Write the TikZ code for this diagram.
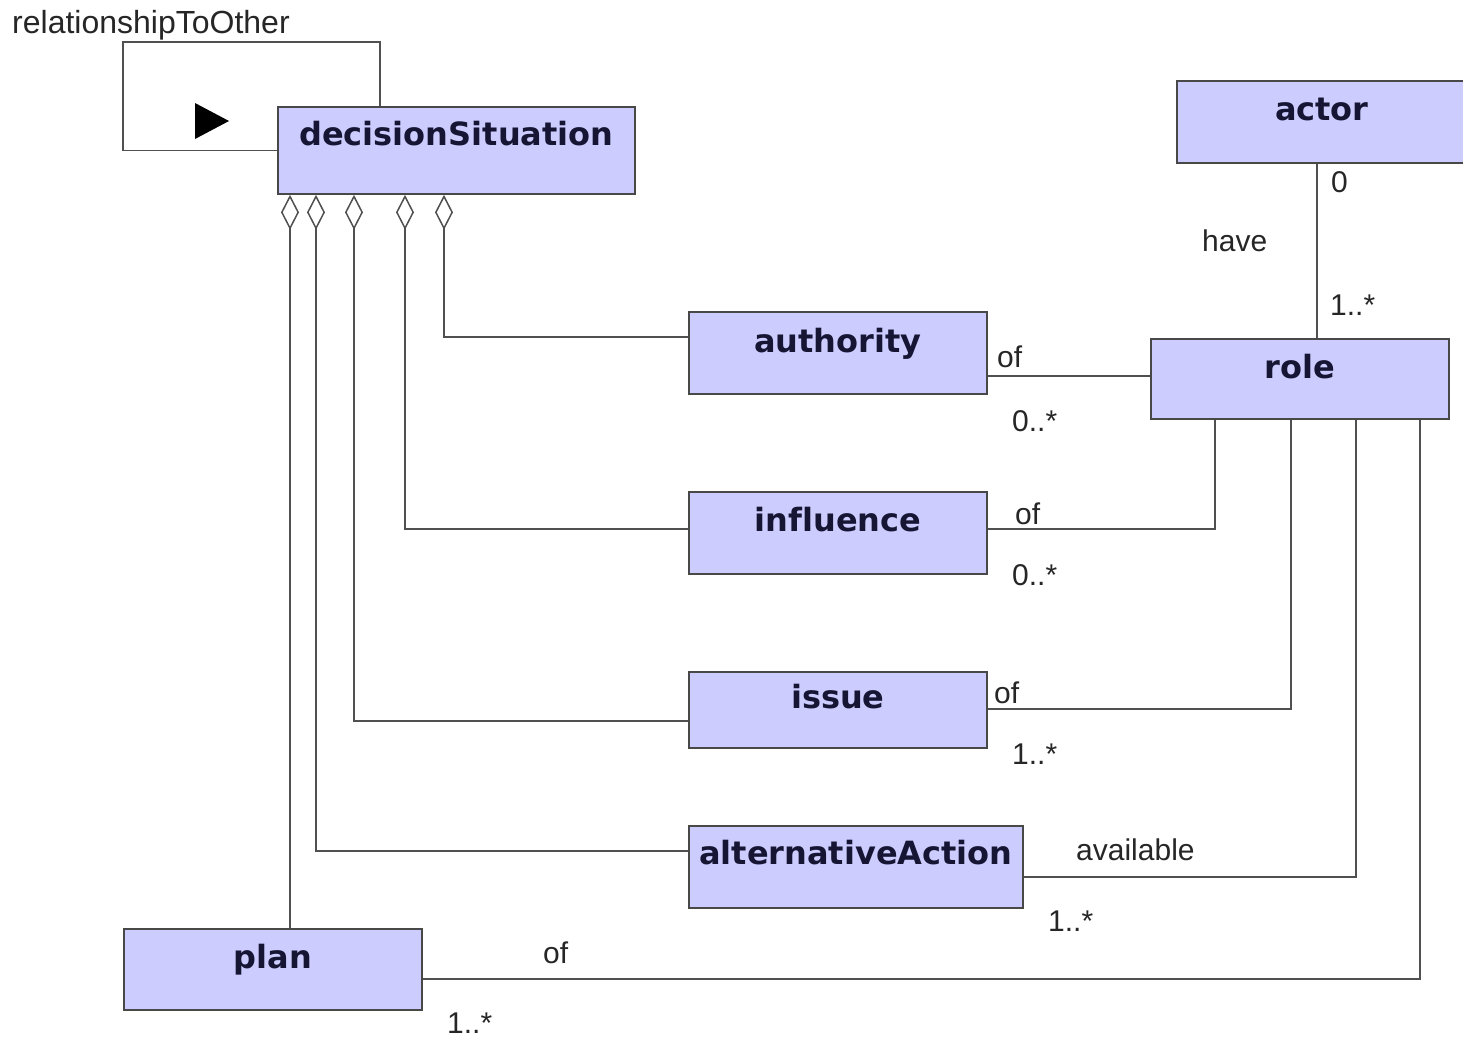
\documentclass[tikz,border=0pt]{standalone}
\usepackage{fontspec}
\setmainfont{Liberation Sans}
\newfontfamily\classfont{DejaVu Sans}[Ligatures=NoCommon]
\usetikzlibrary{arrows.meta,calc}
\definecolor{classfill}{RGB}{204,204,255}
\definecolor{classtext}{RGB}{22,22,52}
\definecolor{classedge}{RGB}{72,72,72}
\definecolor{wire}{RGB}{80,80,80}
\begin{document}
\begin{tikzpicture}[x=1pt,y=-1pt,
  cls/.style={draw=classedge, fill=classfill, line width=1.8pt, anchor=north west,
    inner sep=0pt, align=center, text=classtext,
    font=\classfont\bfseries\fontsize{32}{36}\selectfont},
  assoc/.style={draw=wire, line width=1.7pt},
  agg/.style={assoc, {Diamond[open, fill=white, length=35pt, width=18pt, line width=1.5pt]}-},
  lbl/.style={anchor=base west, inner sep=0pt, text=black!85,
    font=\fontsize{30}{34}\selectfont}]
\useasboundingbox (0,0) rectangle (1463,1039);

% classes
\node[cls, minimum width=357pt, text height=39pt, text depth=48pt] (ds) at (277,106) {decisionSituation};
\node[cls, minimum width=290pt, text height=40pt, text depth=42pt] (actor) at (1176,80) {actor};
\node[cls, minimum width=298pt, text height=41pt, text depth=41pt] (auth) at (688,311) {authority};
\node[cls, minimum width=298pt, text height=40pt, text depth=40pt] (role) at (1150,338) {role};
\node[cls, minimum width=298pt, text height=40pt, text depth=42pt] (infl) at (688,491) {influence};
\node[cls, minimum width=298pt, text height=37pt, text depth=39pt] (issue) at (688,671) {issue};
\node[cls, minimum width=334pt, text height=39pt, text depth=43pt] (alt) at (688,825) {alternativeAction};
\node[cls, minimum width=298pt, text height=40pt, text depth=41pt] (plan) at (123,928) {plan};

% self association of decisionSituation
\coordinate (loop) at (123,42);
\draw[assoc] (ds.west) -| (loop) -| ($(ds.north west)+(103,0)$);
\fill[black] (195,103) -- (195,139) -- (229,121) -- cycle;
\node[lbl, font=\fontsize{32}{36}\selectfont] (relname) at (12,33) {relationshipToOther};

% aggregation ends on decisionSituation
\coordinate (d1) at ($(ds.south west)+(13,0)$);
\coordinate (d2) at ($(ds.south west)+(39,0)$);
\coordinate (d3) at ($(ds.south west)+(77,0)$);
\coordinate (d4) at ($(ds.south west)+(128,0)$);
\coordinate (d5) at ($(ds.south west)+(167,0)$);
\draw[agg] (d5) |- ($(auth.north west)+(0,26)$);
\draw[agg] (d4) |- ($(infl.north west)+(0,38)$);
\draw[agg] (d3) |- ($(issue.north west)+(0,50)$);
\draw[agg] (d2) |- ($(alt.north west)+(0,26)$);
\draw[agg] (d1) -- (d1 |- plan.north);

% associations to role
\coordinate (a1) at ($(auth.north east)+(0,65)$);
\draw[assoc] (a1) -- (a1 -| role.west);
\draw[assoc] ($(infl.north east)+(0,38)$) -| ($(role.south west)+(65,0)$);
\draw[assoc] ($(issue.north east)+(0,38)$) -| ($(role.south west)+(141,0)$);
\draw[assoc] ($(alt.north east)+(0,52)$) -| ($(role.south west)+(206,0)$);
\draw[assoc] ($(plan.north east)+(0,51)$) -| ($(role.south west)+(270,0)$);
\coordinate (a2) at ($(actor.south west)+(141,0)$);
\draw[assoc] (a2) -- (a2 |- role.north);

% association labels and multiplicities
\node[lbl] (m1) at (1331,192) {0};
\node[lbl] (n1) at (1202,251) {have};
\node[lbl] (m2) at (1330,315) {1..*};
\node[lbl] (n2) at (997,367) {of};
\node[lbl] (m3) at (1012,431) {0..*};
\node[lbl] (n3) at (1015,524) {of};
\node[lbl] (m4) at (1012,585) {0..*};
\node[lbl] (n4) at (994,703) {of};
\node[lbl] (m5) at (1012,764) {1..*};
\node[lbl] (n5) at (1076,860) {available};
\node[lbl] (m6) at (1048,931) {1..*};
\node[lbl] (n6) at (543,963) {of};
\node[lbl] (m7) at (447,1033) {1..*};
\end{tikzpicture}
\end{document}
